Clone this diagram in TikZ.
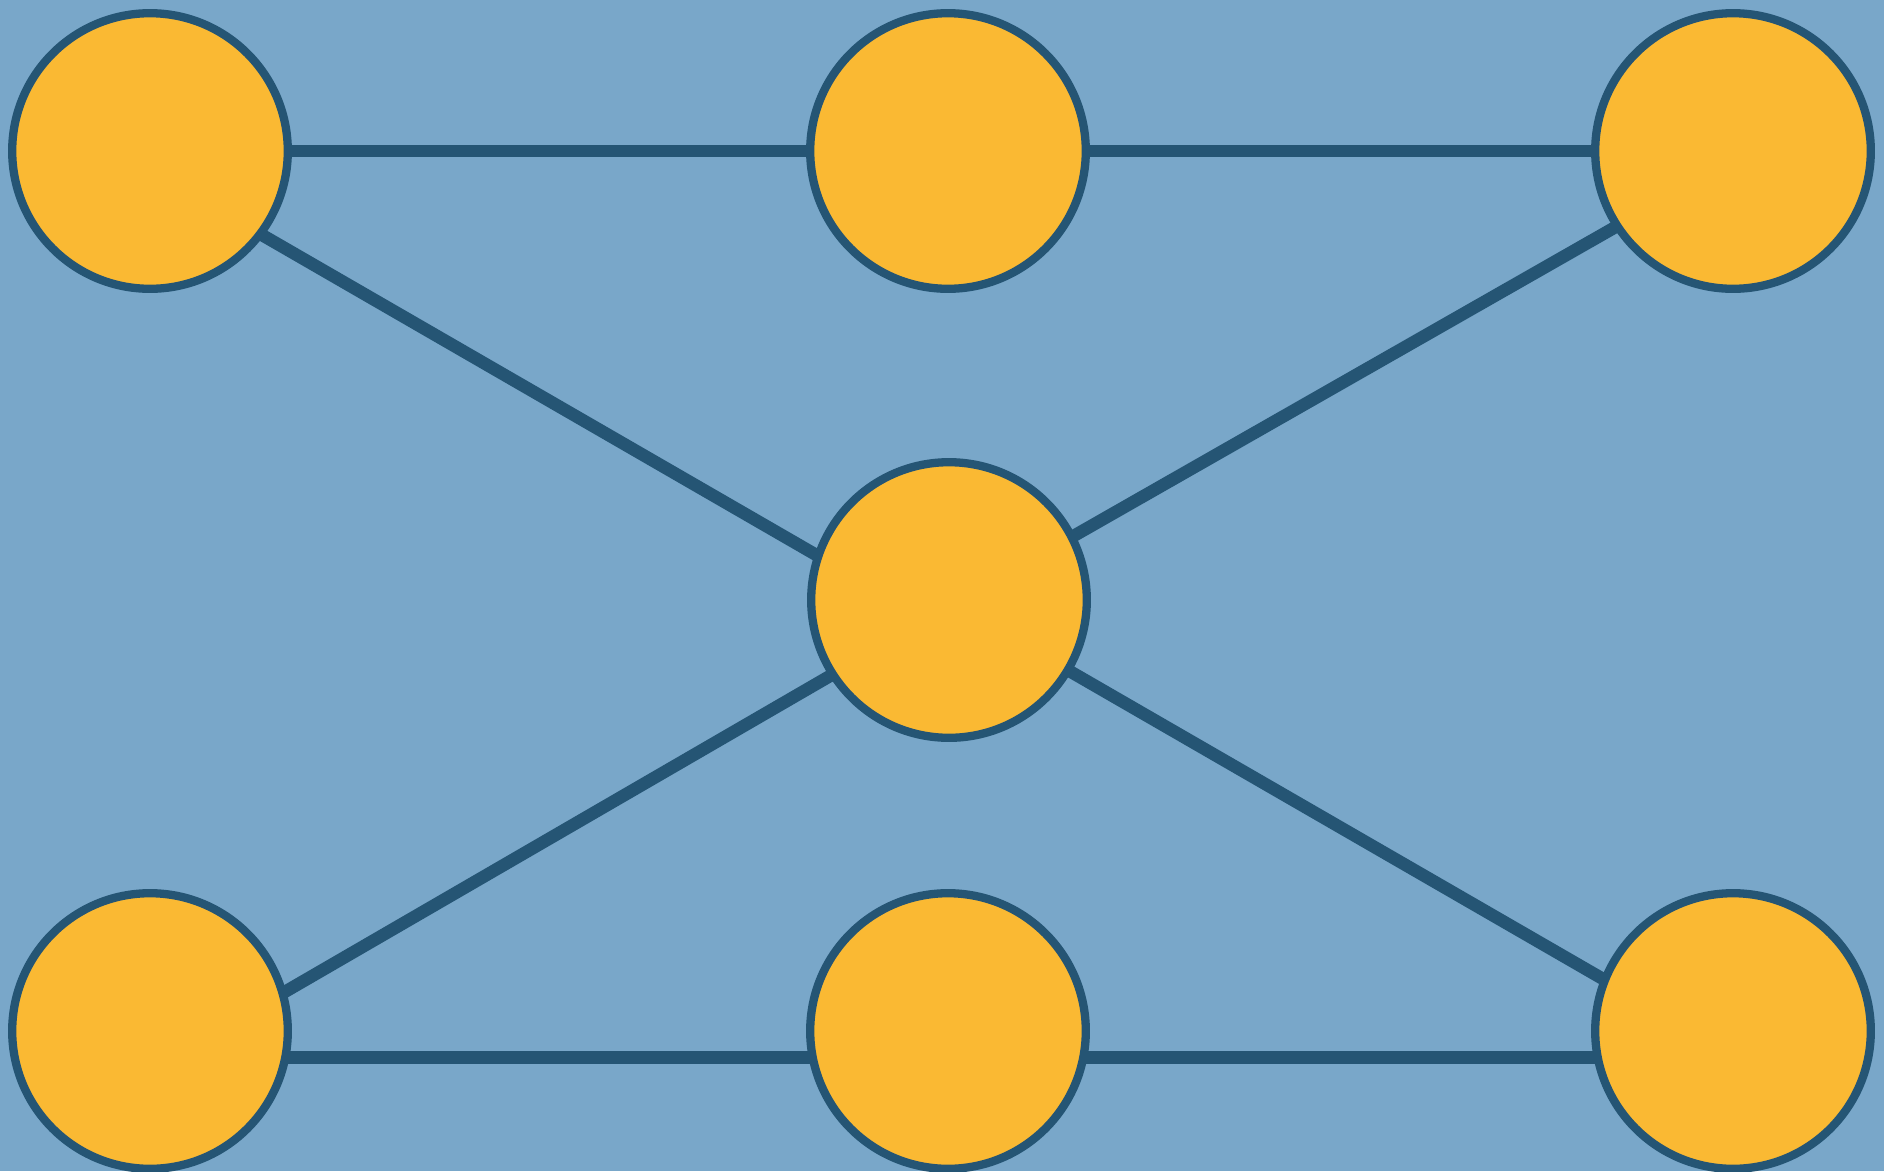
\documentclass[tikz,border=0pt]{standalone}
\usetikzlibrary{calc}
\definecolor{bgblue}{HTML}{79A7C9}
\definecolor{nodefill}{HTML}{FAB933}
\definecolor{darkline}{HTML}{255574}
\pgfdeclarelayer{bglayer}
\pgfdeclarelayer{edgelayer}
\pgfsetlayers{bglayer,edgelayer,main}
\tikzset{
  dot/.style={circle, draw=darkline, fill=nodefill, line width=8.3pt, minimum size=275.6pt, inner sep=0pt},
  link/.style={draw=darkline, line width=12.5pt}
}
\begin{document}
\begin{tikzpicture}[x=1pt,y=-1pt]
\begin{pgfonlayer}{bglayer}
  \fill[bgblue] (0,0) rectangle (1884,1171);
\end{pgfonlayer}
\useasboundingbox (0,0) rectangle (1884,1171);
\node[dot] (tl) at (150,151) {};
\node[dot] (tm) at (948,151) {};
\node[dot] (tr) at (1733,151) {};
\node[dot] (c)  at (949,600) {};
\node[dot] (bl) at (150,1031) {};
\node[dot] (bm) at (948,1031) {};
\node[dot] (br) at (1733,1031) {};
\begin{pgfonlayer}{edgelayer}
  \coordinate (tla) at ($(tl)+(0,19.3)$);
  \coordinate (cta) at ($(c)+(0,31.6)$);
  \coordinate (tra) at ($(tr)+(0,9)$);
  \coordinate (ctb) at ($(c)+(0,7)$);
  \coordinate (bla) at ($(bl)+(0,39)$);
  \coordinate (cbl) at ($(c)+(0,7)$);
  \coordinate (cbr) at ($(c)+(0,1.5)$);
  \coordinate (bra) at ($(br)+(0,23)$);
  \coordinate (blh) at ($(bl)+(0,26.5)$);
  \coordinate (bmh) at ($(bm)+(0,26.5)$);
  \coordinate (brh) at ($(br)+(0,26.5)$);
  \path[link] (tl) -- (tm);
  \path[link] (tm) -- (tr);
  \path[link] (tla) -- (cta);
  \path[link] (tra) -- (ctb);
  \path[link] (bla) -- (cbl);
  \path[link] (cbr) -- (bra);
  \path[link] (blh) -- (bmh);
  \path[link] (bmh) -- (brh);
\end{pgfonlayer}
\end{tikzpicture}
\end{document}
